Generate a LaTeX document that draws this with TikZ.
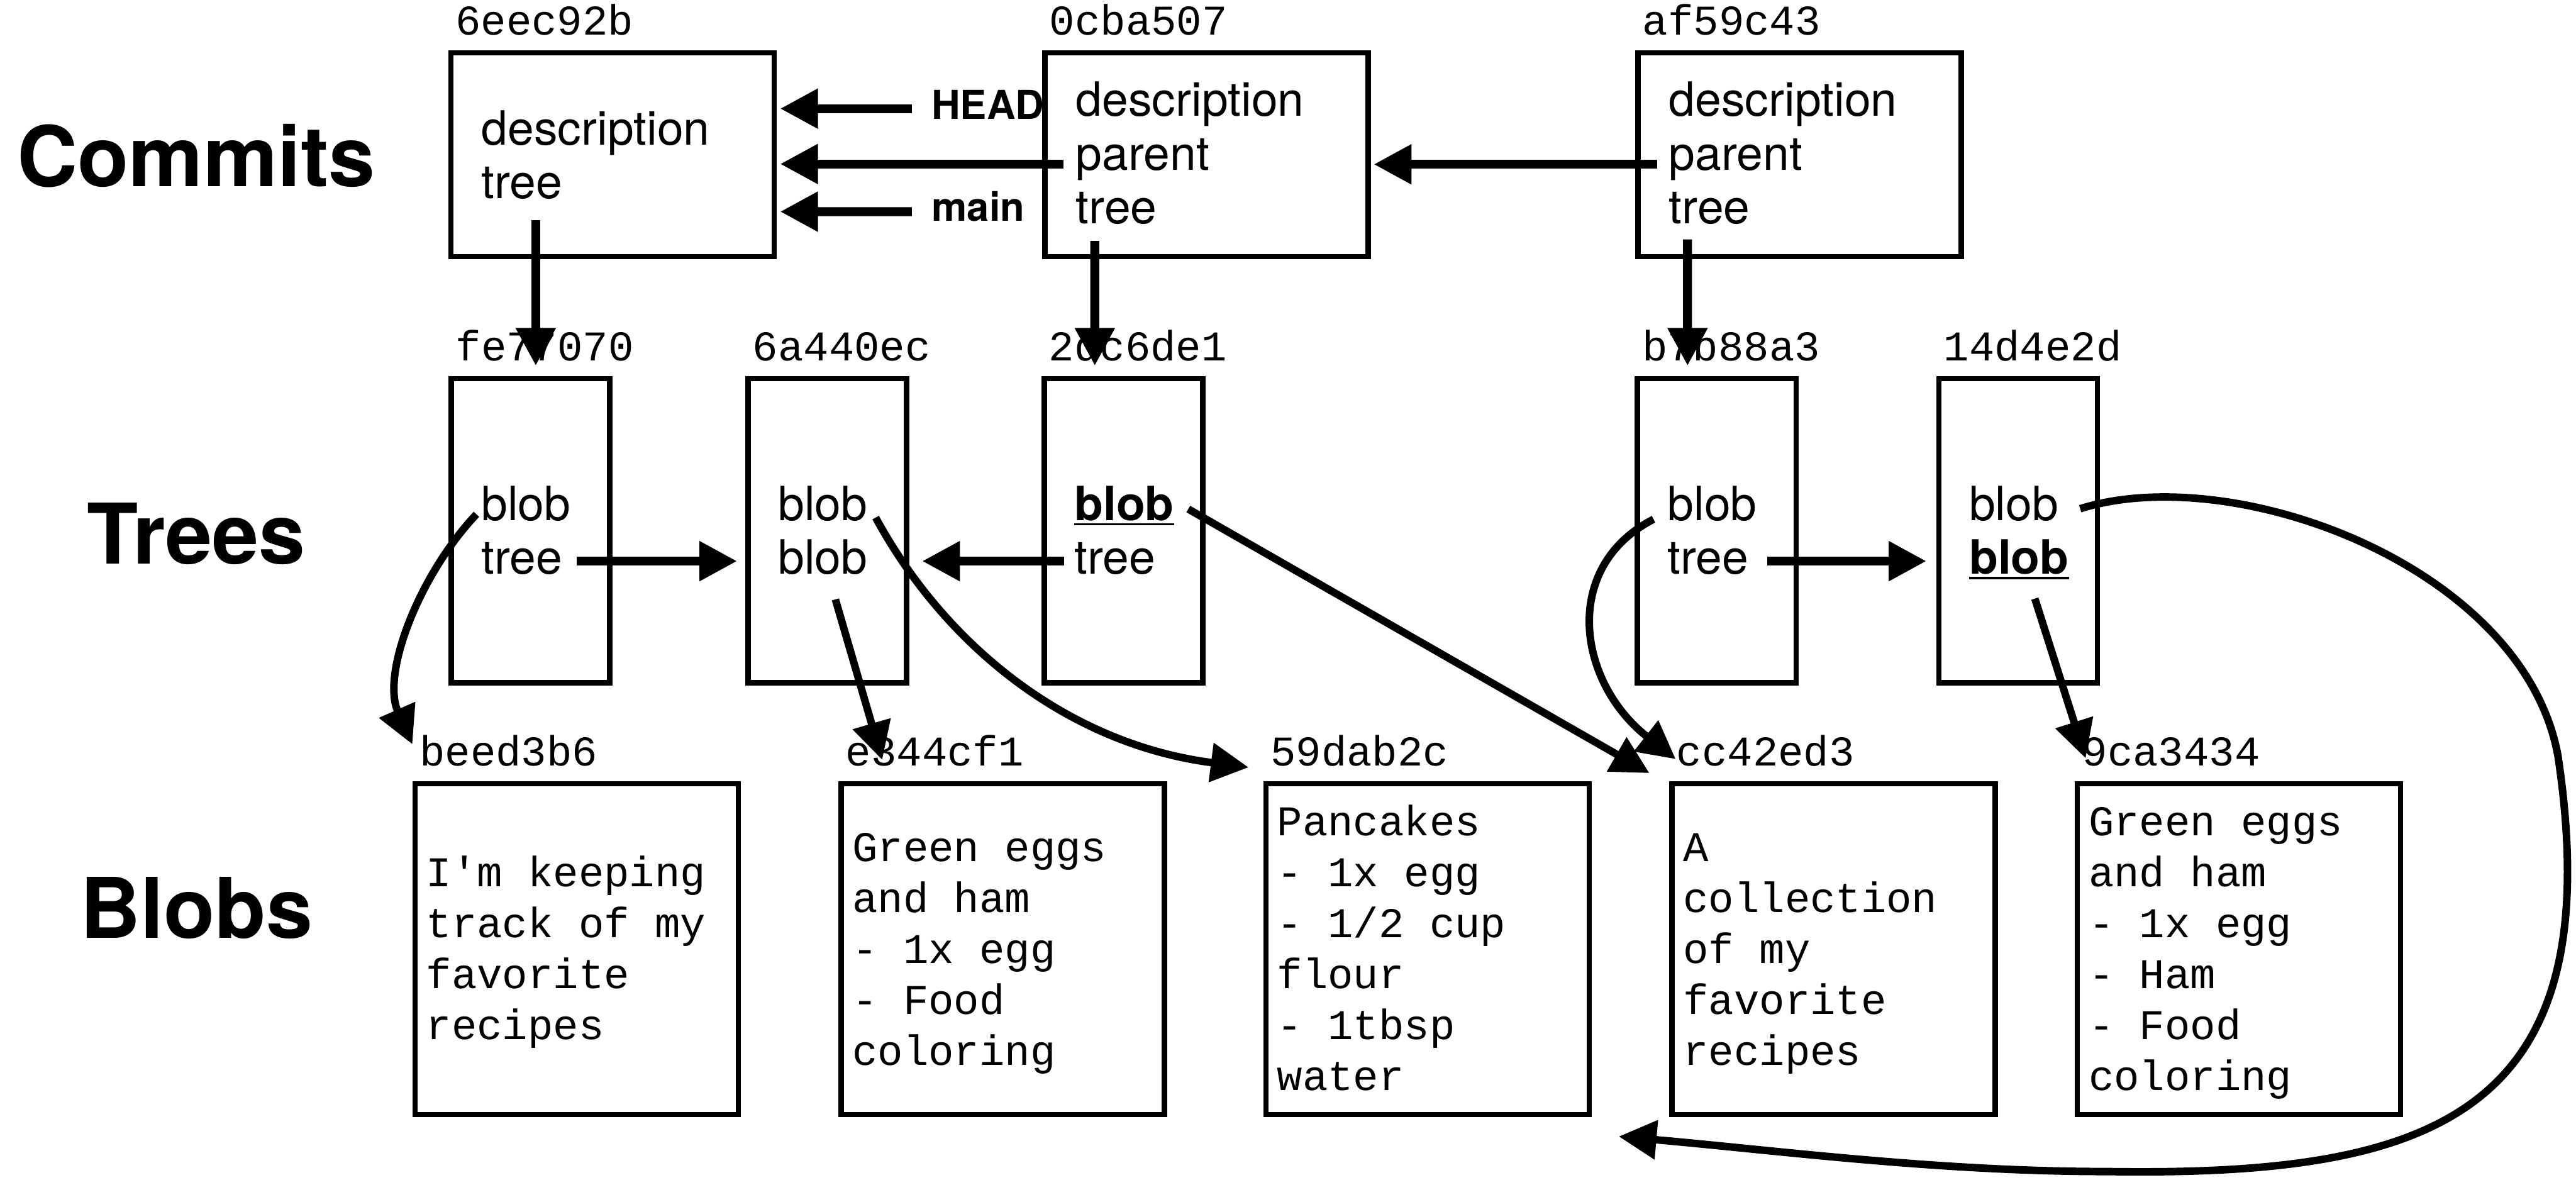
\documentclass[tikz,border=0pt]{standalone}
\usepackage{fontspec}
\setmainfont{TeX Gyre Heros}
\setsansfont{TeX Gyre Heros}
\setmonofont{Liberation Mono}
\usetikzlibrary{arrows.meta,calc}
\newcommand\lines[1]{\begin{tabular}[t]{@{}l@{}}#1\end{tabular}}
\newcommand\ulb[1]{\setbox0\hbox{\bfseries #1}\rlap{\rule[-0.06cm]{\wd0}{0.026cm}}\box0}
\begin{document}
\begin{tikzpicture}[x=0.02cm,y=-0.02cm,
  box/.style={draw, line width=1.82pt, inner sep=0pt, outer sep=0pt, anchor=north west},
  cbox/.style={box, minimum width=3.936cm, minimum height=2.482cm},
  tbox/.style={box, minimum width=1.93cm, minimum height=3.7cm},
  bbox/.style={box, minimum width=3.936cm, minimum height=4.026cm},
  txt/.style={inner sep=0pt, anchor=base west, font=\fontsize{16.36}{18.6}\selectfont},
  mono/.style={inner sep=0pt, anchor=base west, font=\ttfamily\fontsize{14.67}{17.65}\selectfont},
  hash/.style={inner sep=0pt, anchor=base west, font=\ttfamily\fontsize{14.67}{17.65}\selectfont},
  rowlab/.style={inner sep=0pt, anchor=base, font=\bfseries\fontsize{29}{33}\selectfont},
  reflab/.style={inner sep=0pt, anchor=base west, font=\bfseries\fontsize{13.8}{16}\selectfont},
  arr/.style={line width=3.1pt, -{Triangle[length=0.46cm,width=0.46cm]}},
  carr/.style={line width=2.6pt, -{Triangle[length=0.46cm,width=0.46cm]}}]
\path[fill=white] (0,0) rectangle (1568,718);
\useasboundingbox (0,0) rectangle (1568,718);

% row labels
\node[rowlab] (lc) at (119.5,113.6) {Commits};
\node[rowlab] (lt) at (119.5,343) {Trees};
\node[rowlab] (lb) at (119.5,571) {Blobs};

% commits
\node[cbox] (c1) at (274.4,32.1) {};
\node[cbox] (c2) at (636,32.1) {};
\node[cbox] (c3) at (997,32.1) {};
\node[hash] (h1) at ($(c1.north west)+(2.5,-11)$) {6eec92b};
\node[hash] (h2) at ($(c2.north west)+(2.5,-11)$) {0cba507};
\node[hash] (h3) at ($(c3.north west)+(2.5,-11)$) {af59c43};
\node[txt] (x1) at ($(c1.north west)+(18.4,56.1)$) {\lines{description\\tree}};
\node[txt] (x2) at ($(c2.north west)+(18.6,38.7)$) {\lines{description\\parent\\tree}};
\node[txt] (x3) at ($(c3.north west)+(18.6,38.7)$) {\lines{description\\parent\\tree}};
\node[reflab] (head) at (566.6,72.5) {HEAD};
\node[reflab] (main) at (566.8,134.6) {main};

% trees
\node[tbox] (t1) at (274.6,230.5) {};
\node[tbox] (t2) at (455.3,230.5) {};
\node[tbox] (t3) at (635.6,230.5) {};
\node[tbox] (t4) at (996.7,230.5) {};
\node[tbox] (t5) at (1180.3,230.5) {};
\node[hash] (g1) at ($(t1.north west)+(2.5,-11)$) {fe77070};
\node[hash] (g2) at ($(t2.north west)+(2.5,-11)$) {6a440ec};
\node[hash] (g3) at ($(t3.north west)+(2.5,-11)$) {2dc6de1};
\node[hash] (g4) at ($(t4.north west)+(2.5,-11)$) {b7b88a3};
\node[hash] (g5) at ($(t5.north west)+(2.5,-11)$) {14d4e2d};
\node[txt] (y1) at ($(t1.north west)+(18,86.2)$) {\lines{blob\\tree}};
\node[txt] (y2) at ($(t2.north west)+(18,86.2)$) {\lines{blob\\blob}};
\node[txt] (y3) at ($(t3.north west)+(18,86.2)$) {\lines{\ulb{blob}\\tree}};
\node[txt] (y4) at ($(t4.north west)+(18,86.2)$) {\lines{blob\\tree}};
\node[txt] (y5) at ($(t5.north west)+(18,86.2)$) {\lines{blob\\\ulb{blob}}};

% blobs
\node[bbox] (b1) at (252.6,477) {};
\node[bbox] (b2) at (512,477) {};
\node[bbox] (b3) at (770.5,477) {};
\node[bbox] (b4) at (1017.7,477) {};
\node[bbox] (b5) at (1264.5,477) {};
\node[hash] (k1) at ($(b1.north west)+(2.5,-11)$) {beed3b6};
\node[hash] (k2) at ($(b2.north west)+(2.5,-11)$) {e344cf1};
\node[hash] (k3) at ($(b3.north west)+(2.5,-11)$) {59dab2c};
\node[hash] (k4) at ($(b4.north west)+(2.5,-11)$) {cc42ed3};
\node[hash] (k5) at ($(b5.north west)+(2.5,-11)$) {9ca3434};
\node[mono] (z1) at ($(b1.north west)+(6.5,62.7)$) {\lines{I'm keeping\\track of my\\favorite\\recipes}};
\node[mono] (z2) at ($(b2.north west)+(6.5,47.15)$) {\lines{Green eggs\\and ham\\- 1x egg\\- Food\\coloring}};
\node[mono] (z3) at ($(b3.north west)+(6.5,31.6)$) {\lines{Pancakes\\- 1x egg\\- 1/2 cup\\flour\\- 1tbsp\\water}};
\node[mono] (z4) at ($(b4.north west)+(6.5,47.15)$) {\lines{A\\collection\\of my\\favorite\\recipes}};
\node[mono] (z5) at ($(b5.north west)+(6.5,31.6)$) {\lines{Green eggs\\and ham\\- 1x egg\\- Ham\\- Food\\coloring}};

% commit-level arrows
\draw[arr] ($(head.base west)+(-11.6,-6.4)$) -- ($(c1.north east)+(3.7,34)$);
\draw[arr] ($(c2.north west)+(11.2,67.7)$) -- ($(c1.north east)+(3.7,67.7)$);
\draw[arr] ($(main.base west)+(-11.8,-5.8)$) -- ($(c1.north east)+(3.7,96.7)$);
\draw[arr] ($(c3.north west)+(11.7,67.9)$) -- ($(c2.north east)+(3.4,67.9)$);
% commit -> tree
\draw[arr] ($(c1.north west)+(51.7,102)$) -- ($(t1.north west)+(51.5,-7.9)$);
\draw[arr] ($(c2.north west)+(30.4,114.6)$) -- ($(t3.north west)+(30.8,-7.9)$);
\draw[arr] ($(c3.north west)+(30.2,113.6)$) -- ($(t4.north west)+(30.5,-7.9)$);
% tree -> tree
\draw[arr] ($(t1.north west)+(76.3,111)$) -- ($(t2.north west)+(-6.6,111)$);
\draw[arr] ($(t3.north west)+(12.1,111)$) -- ($(t2.north east)+(9.5,111)$);
\draw[arr] ($(t4.north west)+(78.8,111)$) -- ($(t5.north west)+(-7.7,111)$);
% tree -> blob
\draw[carr] ($(t1.north west)+(15.4,82.5)$) .. controls +(-35,37) and +(-19,-43) .. ($(b1.north west)+(-1.6,-24)$);
\draw[carr] ($(t2.north west)+(53.2,134.3)$) -- ($(b2.north west)+(25,-14.5)$);
\draw[carr] ($(t2.north west)+(77.7,84.5)$) .. controls +(43,79) and +(-109,-14) .. ($(b3.north west)+(-10.5,-10)$);
\draw[carr] ($(t3.north west)+(87.7,79.3)$) -- ($(b4.north west)+(-13.7,-6.5)$);
\draw[carr] ($(t4.north west)+(9.8,85.5)$) .. controls +(-56.5,29) and +(-60,-47) .. ($(b4.north west)+(2.3,-15)$);
\draw[carr] ($(t5.north west)+(58.3,133.8)$) -- ($(b5.north west)+(5,-15.5)$);
\draw[carr] ($(t5.north west)+(85.9,79.1)$) .. controls (1360,280) and (1536,345) .. (1557,460)
  .. controls (1590,680) and (1480,716) .. (1282,713)
  .. controls (1180,713) and (1080,700) .. ($(b4.south west)+(-32.4,13.4)$);
\end{tikzpicture}
\end{document}
